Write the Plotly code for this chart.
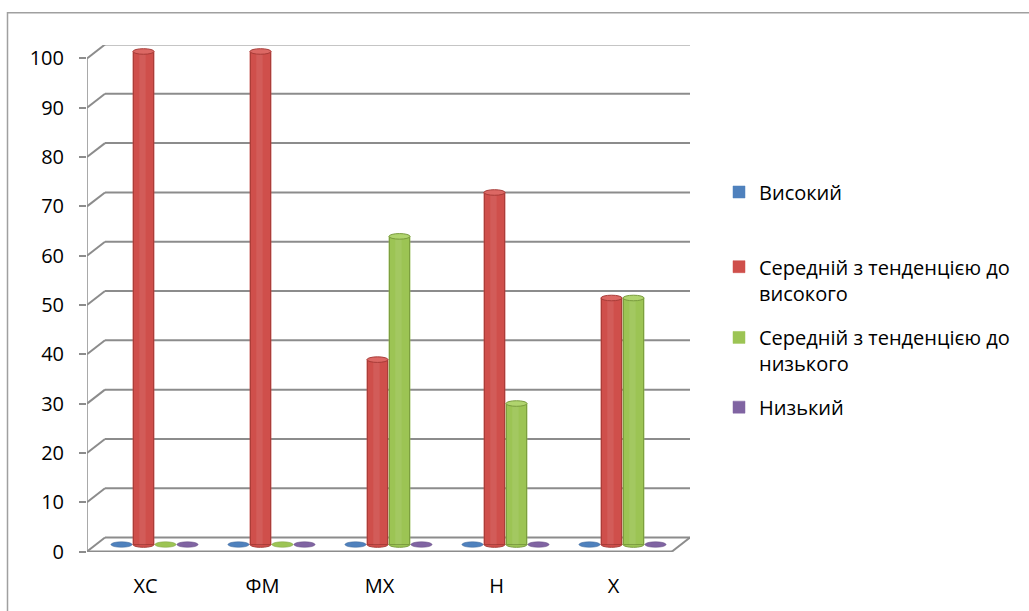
import plotly.graph_objects as go

# ---- data -------------------------------------------------------------
categories = ["ХС", "ФМ", "МХ", "Н", "Х"]
series_names = [
    "Високий",
    "Середній з тенденцією до<br>високого",
    "Середній з тенденцією до<br>низького",
    "Низький",
]
vysokyi = [0, 0, 0, 0, 0]
serednii_vysokyi = [100, 100, 37.5, 71.4, 50]
serednii_nyzkyi = [0, 0, 62.5, 28.6, 50]
nyzkyi = [0, 0, 0, 0, 0]
y_ticks = list(range(0, 101, 10))

series_values = [vysokyi, serednii_vysokyi, serednii_nyzkyi, nyzkyi]
body_colors = ["#4f81bd", "#cf4f4b", "#9cc454", "#8064a2"]
edge_colors = ["#3c6496", "#a83c38", "#7a9c3e", "#61497f"]
top_colors = ["#6a96cc", "#dc6864", "#b0d46e", "#9680b8"]

# ---- geometry (pixels) -----------------------------------------------
W, H = 1029, 611
PL, PR, PT, PB = 87, 690, 45, 554          # plot area
PX_PER_UNIT = 4.95                          # vertical pixels per value unit
PX_PER_CAT = 117                            # horizontal pixels per category
DEPTH_X_PX, DEPTH_Y_PX = 9, 7               # half depth of the 3-D box
MID_ZERO_PX = PB - DEPTH_Y_PX - 0.5         # value 0 at mid depth

DX = DEPTH_X_PX / PX_PER_CAT
DY = DEPTH_Y_PX / PX_PER_UNIT
n_cat = len(categories)
x_range = [-0.5 - DX, n_cat - 0.5 + DX]
y_range = [-(PB - MID_ZERO_PX) / PX_PER_UNIT, (MID_ZERO_PX - PT) / PX_PER_UNIT]

BARGAP, BARGROUPGAP = 0.248, 0.04
n_ser = len(series_values)
slot = (1 - BARGAP) / n_ser
bar_w = slot * (1 - BARGROUPGAP)
ELL = 2.8 / PX_PER_UNIT                     # half height of cylinder ellipses

GRID = "#8c8c8c"
FONT = "Open Sans, Noto Sans, DejaVu Sans, sans-serif"
FSIZE = 20

fig = go.Figure()

legend_ids = ["legend", "legend2", "legend3", "legend4"]
for i, (name, vals) in enumerate(zip(series_names, series_values)):
    fig.add_trace(go.Bar(
        x=categories, y=vals, name=name,
        marker=dict(color=body_colors[i], line=dict(color=body_colors[i], width=0.5)),
        legend=legend_ids[i],
        hoverinfo="skip",
    ))

# helper trace so the front value axis is rendered
fig.add_trace(go.Scatter(x=[categories[0]], y=[None], yaxis="y2",
                         showlegend=False, hoverinfo="skip"))

shapes = []

# back wall gridlines with the slanted left-wall connectors
for v in y_ticks:
    shapes.append(dict(type="line", xref="x", yref="y",
                       x0=-0.5 + DX, x1=n_cat - 0.5 + DX, y0=v + DY, y1=v + DY,
                       line=dict(color=GRID, width=2), layer="below"))
    shapes.append(dict(type="line", xref="x", yref="y",
                       x0=-0.5 - DX, x1=-0.5 + DX, y0=v - DY, y1=v + DY,
                       line=dict(color=GRID, width=2), layer="below"))

# floor: front edge and right side
shapes.append(dict(type="line", xref="x", yref="y",
                   x0=-0.5 - DX, x1=n_cat - 0.5 - DX, y0=-DY, y1=-DY,
                   line=dict(color=GRID, width=2), layer="below"))
shapes.append(dict(type="line", xref="x", yref="y",
                   x0=n_cat - 0.5 - DX, x1=n_cat - 0.5 + DX, y0=-DY, y1=DY,
                   line=dict(color=GRID, width=2), layer="below"))

# front value axis line
shapes.append(dict(type="line", xref="x", yref="y",
                   x0=-0.5 - DX, x1=-0.5 - DX, y0=-DY - 5 / PX_PER_UNIT, y1=100 - DY,
                   line=dict(color=GRID, width=1.5), layer="below"))

# category boundary ticks under the front floor edge
for k in range(n_cat + 1):
    xb = k - 0.5 - DX
    shapes.append(dict(type="line", xref="x", yref="y",
                       x0=xb, x1=xb, y0=-DY, y1=-DY - 6 / PX_PER_UNIT,
                       line=dict(color=GRID, width=1.5), layer="below"))

# cylinder bottoms and tops
for i, vals in enumerate(series_values):
    for k, v in enumerate(vals):
        left = k - (1 - BARGAP) / 2 + slot * i + slot * BARGROUPGAP / 2
        right = left + bar_w
        if v > 0:
            shapes.append(dict(type="circle", xref="x", yref="y",
                               x0=left, x1=right, y0=-ELL, y1=ELL,
                               fillcolor=body_colors[i],
                               line=dict(color=edge_colors[i], width=1), layer="above"))
            shapes.append(dict(type="rect", xref="x", yref="y",
                               x0=left + 0.004, x1=right - 0.004, y0=0, y1=v,
                               fillcolor=body_colors[i],
                               line=dict(color=edge_colors[i], width=1), layer="above"))
            # soft highlight down the middle of the cylinder
            shapes.append(dict(type="rect", xref="x", yref="y",
                               x0=left + bar_w * 0.3, x1=left + bar_w * 0.6, y0=0, y1=v,
                               fillcolor="#ffffff", line=dict(width=0),
                               opacity=0.08, layer="above"))
            shapes.append(dict(type="circle", xref="x", yref="y",
                               x0=left, x1=right, y0=v - ELL, y1=v + ELL,
                               fillcolor=top_colors[i],
                               line=dict(color=edge_colors[i], width=1), layer="above"))
        else:
            shapes.append(dict(type="circle", xref="x", yref="y",
                               x0=left, x1=right, y0=v - ELL, y1=v + ELL,
                               fillcolor=body_colors[i],
                               line=dict(color=edge_colors[i], width=0.5), layer="above"))

# outer chart border
def px_x(px):
    return (px - PL) / (PR - PL)


def px_y(py):
    return (PB - py) / (PB - PT)


shapes.append(dict(type="rect", xref="paper", yref="paper",
                   x0=px_x(7.5), x1=px_x(W + 20), y0=px_y(H + 20), y1=px_y(12.5),
                   line=dict(color="#a0a0a0", width=1.5), fillcolor="rgba(0,0,0,0)"))

legend_centers = [192, 267, 338, 408]
legends = {}
for lid, cy in zip(legend_ids, legend_centers):
    legends[lid] = dict(
        x=px_x(719), y=px_y(cy - 19), xanchor="left", yanchor="top",
        bgcolor="rgba(0,0,0,0)", borderwidth=0, valign="top",
        font=dict(family=FONT, size=FSIZE, color="#000000"),
    )

fig.update_layout(
    width=W, height=H,
    margin=dict(l=PL, r=W - PR, t=PT, b=H - PB, pad=0),
    paper_bgcolor="white", plot_bgcolor="rgba(0,0,0,0)",
    barmode="group", bargap=BARGAP, bargroupgap=BARGROUPGAP,
    shapes=shapes,
    font=dict(family=FONT, size=FSIZE, color="#000000"),
    xaxis=dict(type="category", range=x_range, showgrid=False, zeroline=False,
               showline=False, ticks="", ticklabelshift=-DEPTH_X_PX,
               ticklabelstandoff=20, tickfont=dict(family=FONT, size=FSIZE, color="#000000"),
               fixedrange=True),
    yaxis=dict(range=y_range, showgrid=False, zeroline=False, showline=False,
               showticklabels=False, ticks="", fixedrange=True),
    yaxis2=dict(range=[y_range[0] + DY, y_range[1] + DY], overlaying="y", side="left",
                anchor="x", tickvals=y_ticks, showgrid=False, zeroline=False,
                showline=False, ticks="outside", ticklen=7, tickwidth=1.5,
                tickcolor=GRID, ticklabelstandoff=11,
                tickfont=dict(family=FONT, size=FSIZE, color="#000000"), fixedrange=True),
    showlegend=True,
    **legends,
)

fig.write_html("out.html")
